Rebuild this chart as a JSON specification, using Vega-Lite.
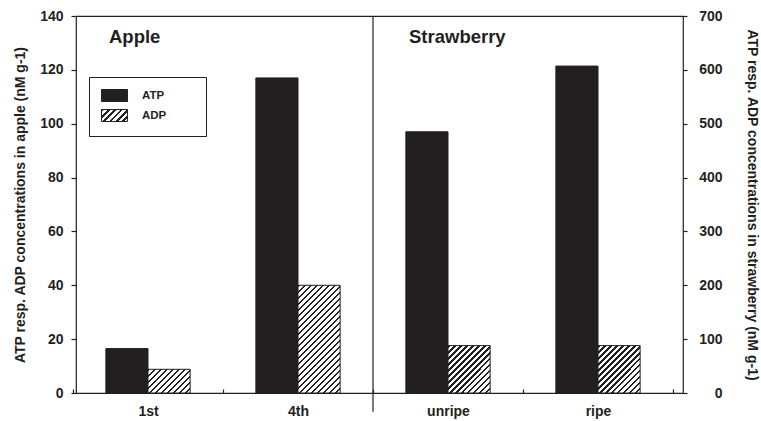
{
  "$schema": "https://vega.github.io/schema/vega-lite/v6.json",
  "width": 607,
  "height": 377,
  "autosize": {"type": "none"},
  "padding": {"left": 76, "top": 16, "right": 78, "bottom": 28},
  "background": "white",
  "config": {
    "font": "Liberation Sans",
    "view": {"stroke": "#231f20", "strokeWidth": 1.2},
    "axis": {
      "domain": false,
      "grid": false,
      "labelFont": "Liberation Sans",
      "labelFontWeight": "bold",
      "labelFontSize": 14,
      "labelColor": "#231f20",
      "titleFont": "Liberation Sans",
      "titleFontWeight": "bold",
      "titleFontSize": 14,
      "titleColor": "#231f20",
      "tickColor": "#231f20",
      "tickWidth": 1.2
    }
  },
  "datasets": {
    "apple": [
      {"cat": "1st", "type": "ATP", "v": 16.5},
      {"cat": "1st", "type": "ADP", "v": 8.8},
      {"cat": "4th", "type": "ATP", "v": 117},
      {"cat": "4th", "type": "ADP", "v": 40}
    ],
    "strawberry": [
      {"cat": "unripe", "type": "ATP", "v": 485},
      {"cat": "unripe", "type": "ADP", "v": 88},
      {"cat": "ripe", "type": "ATP", "v": 607},
      {"cat": "ripe", "type": "ADP", "v": 88}
    ],
    "panels": [
      {"cat": "1st", "label": "Apple"},
      {"cat": "unripe", "label": "Strawberry"}
    ],
    "divider": [
      {"cat": "4th"}
    ]
  },
  "layer": [
    {
      "layer": [
        {
          "data": {"name": "apple"},
          "mark": {"type": "bar", "stroke": "#231f20", "strokeWidth": 1},
          "encoding": {
            "x": {
              "field": "cat", "type": "nominal",
              "scale": {"domain": ["1st", "4th", "unripe", "ripe"], "range": [-3, 597], "paddingInner": 0, "paddingOuter": 0},
              "axis": {"title": null, "labelAngle": 0, "tickBand": "extent", "tickSize": -4, "labelPadding": 15}
            },
            "xOffset": {"field": "type", "type": "nominal", "scale": {"domain": ["ATP", "ADP"], "paddingInner": 0, "paddingOuter": 0.78}},
            "y": {
              "field": "v", "type": "quantitative",
              "scale": {"domain": [0, 140]},
              "axis": {"orient": "left", "values": [0, 20, 40, 60, 80, 100, 120, 140], "title": "ATP resp. ADP concentrations in apple (nM g-1)", "tickSize": 5, "labelPadding": 8, "titlePadding": 12}
            },
            "fill": {
              "field": "type", "type": "nominal",
              "scale": {
                "domain": ["ATP", "ADP"],
                "range": ["#231f20", {"expr": "{gradient:'linear',x1:0,y1:0,x2:1.205,y2:0.556,stops:[{offset:0,color:'#222'},{offset:0.075,color:'#222'},{offset:0.075,color:'#fff'},{offset:0.1667,color:'#fff'},{offset:0.1667,color:'#222'},{offset:0.2417,color:'#222'},{offset:0.2417,color:'#fff'},{offset:0.3333,color:'#fff'},{offset:0.3333,color:'#222'},{offset:0.4083,color:'#222'},{offset:0.4083,color:'#fff'},{offset:0.5,color:'#fff'},{offset:0.5,color:'#222'},{offset:0.575,color:'#222'},{offset:0.575,color:'#fff'},{offset:0.6667,color:'#fff'},{offset:0.6667,color:'#222'},{offset:0.7417,color:'#222'},{offset:0.7417,color:'#fff'},{offset:0.8333,color:'#fff'},{offset:0.8333,color:'#222'},{offset:0.9083,color:'#222'},{offset:0.9083,color:'#fff'},{offset:1,color:'#fff'}]}"}]
              },
              "legend": {
                "orient": "none", "legendX": 13, "legendY": 61,
                "title": null,
                "symbolType": "M-1,-1H3.3333V1H-1Z",
                "symbolSize": 144,
                "symbolStrokeColor": "#231f20",
                "symbolStrokeWidth": 1,
                "labelFont": "Liberation Sans", "labelFontSize": 11.5, "labelFontWeight": "bold", "labelColor": "#231f20",
                "labelOffset": 28,
                "labelExpr": "datum.label + '\u2800\u2800\u2800'",
                "strokeColor": "#231f20",
                "padding": 12,
                "rowPadding": 3
              },
              "condition": [
                {"test": "datum.type === 'ADP' && datum.cat === '1st'", "value": {"gradient": "linear", "x1": 0, "y1": 0, "x2": 1.187, "y2": 0.667, "stops": [
                  {"offset": 0, "color": "#222"}, {"offset": 0.0409, "color": "#222"}, {"offset": 0.0409, "color": "#fff"}, {"offset": 0.0909, "color": "#fff"},
                  {"offset": 0.0909, "color": "#222"}, {"offset": 0.1318, "color": "#222"}, {"offset": 0.1318, "color": "#fff"}, {"offset": 0.1818, "color": "#fff"},
                  {"offset": 0.1818, "color": "#222"}, {"offset": 0.2227, "color": "#222"}, {"offset": 0.2227, "color": "#fff"}, {"offset": 0.2727, "color": "#fff"},
                  {"offset": 0.2727, "color": "#222"}, {"offset": 0.3136, "color": "#222"}, {"offset": 0.3136, "color": "#fff"}, {"offset": 0.3636, "color": "#fff"},
                  {"offset": 0.3636, "color": "#222"}, {"offset": 0.4045, "color": "#222"}, {"offset": 0.4045, "color": "#fff"}, {"offset": 0.4545, "color": "#fff"},
                  {"offset": 0.4545, "color": "#222"}, {"offset": 0.4955, "color": "#222"}, {"offset": 0.4955, "color": "#fff"}, {"offset": 0.5455, "color": "#fff"},
                  {"offset": 0.5455, "color": "#222"}, {"offset": 0.5864, "color": "#222"}, {"offset": 0.5864, "color": "#fff"}, {"offset": 0.6364, "color": "#fff"},
                  {"offset": 0.6364, "color": "#222"}, {"offset": 0.6773, "color": "#222"}, {"offset": 0.6773, "color": "#fff"}, {"offset": 0.7273, "color": "#fff"},
                  {"offset": 0.7273, "color": "#222"}, {"offset": 0.7682, "color": "#222"}, {"offset": 0.7682, "color": "#fff"}, {"offset": 0.8182, "color": "#fff"},
                  {"offset": 0.8182, "color": "#222"}, {"offset": 0.8591, "color": "#222"}, {"offset": 0.8591, "color": "#fff"}, {"offset": 0.9091, "color": "#fff"},
                  {"offset": 0.9091, "color": "#222"}, {"offset": 0.95, "color": "#222"}, {"offset": 0.95, "color": "#fff"}, {"offset": 1, "color": "#fff"}
                ]}},
                {"test": "datum.type === 'ADP' && datum.cat === '4th'", "value": {"gradient": "linear", "x1": 0, "y1": 0, "x2": 0.4728, "y2": 1.2066, "stops": [
                  {"offset": 0, "color": "#222"}, {"offset": 0.018, "color": "#222"}, {"offset": 0.018, "color": "#fff"}, {"offset": 0.04, "color": "#fff"},
                  {"offset": 0.04, "color": "#222"}, {"offset": 0.058, "color": "#222"}, {"offset": 0.058, "color": "#fff"}, {"offset": 0.08, "color": "#fff"},
                  {"offset": 0.08, "color": "#222"}, {"offset": 0.098, "color": "#222"}, {"offset": 0.098, "color": "#fff"}, {"offset": 0.12, "color": "#fff"},
                  {"offset": 0.12, "color": "#222"}, {"offset": 0.138, "color": "#222"}, {"offset": 0.138, "color": "#fff"}, {"offset": 0.16, "color": "#fff"},
                  {"offset": 0.16, "color": "#222"}, {"offset": 0.178, "color": "#222"}, {"offset": 0.178, "color": "#fff"}, {"offset": 0.2, "color": "#fff"},
                  {"offset": 0.2, "color": "#222"}, {"offset": 0.218, "color": "#222"}, {"offset": 0.218, "color": "#fff"}, {"offset": 0.24, "color": "#fff"},
                  {"offset": 0.24, "color": "#222"}, {"offset": 0.258, "color": "#222"}, {"offset": 0.258, "color": "#fff"}, {"offset": 0.28, "color": "#fff"},
                  {"offset": 0.28, "color": "#222"}, {"offset": 0.298, "color": "#222"}, {"offset": 0.298, "color": "#fff"}, {"offset": 0.32, "color": "#fff"},
                  {"offset": 0.32, "color": "#222"}, {"offset": 0.338, "color": "#222"}, {"offset": 0.338, "color": "#fff"}, {"offset": 0.36, "color": "#fff"},
                  {"offset": 0.36, "color": "#222"}, {"offset": 0.378, "color": "#222"}, {"offset": 0.378, "color": "#fff"}, {"offset": 0.4, "color": "#fff"},
                  {"offset": 0.4, "color": "#222"}, {"offset": 0.418, "color": "#222"}, {"offset": 0.418, "color": "#fff"}, {"offset": 0.44, "color": "#fff"},
                  {"offset": 0.44, "color": "#222"}, {"offset": 0.458, "color": "#222"}, {"offset": 0.458, "color": "#fff"}, {"offset": 0.48, "color": "#fff"},
                  {"offset": 0.48, "color": "#222"}, {"offset": 0.498, "color": "#222"}, {"offset": 0.498, "color": "#fff"}, {"offset": 0.52, "color": "#fff"},
                  {"offset": 0.52, "color": "#222"}, {"offset": 0.538, "color": "#222"}, {"offset": 0.538, "color": "#fff"}, {"offset": 0.56, "color": "#fff"},
                  {"offset": 0.56, "color": "#222"}, {"offset": 0.578, "color": "#222"}, {"offset": 0.578, "color": "#fff"}, {"offset": 0.6, "color": "#fff"},
                  {"offset": 0.6, "color": "#222"}, {"offset": 0.618, "color": "#222"}, {"offset": 0.618, "color": "#fff"}, {"offset": 0.64, "color": "#fff"},
                  {"offset": 0.64, "color": "#222"}, {"offset": 0.658, "color": "#222"}, {"offset": 0.658, "color": "#fff"}, {"offset": 0.68, "color": "#fff"},
                  {"offset": 0.68, "color": "#222"}, {"offset": 0.698, "color": "#222"}, {"offset": 0.698, "color": "#fff"}, {"offset": 0.72, "color": "#fff"},
                  {"offset": 0.72, "color": "#222"}, {"offset": 0.738, "color": "#222"}, {"offset": 0.738, "color": "#fff"}, {"offset": 0.76, "color": "#fff"},
                  {"offset": 0.76, "color": "#222"}, {"offset": 0.778, "color": "#222"}, {"offset": 0.778, "color": "#fff"}, {"offset": 0.8, "color": "#fff"},
                  {"offset": 0.8, "color": "#222"}, {"offset": 0.818, "color": "#222"}, {"offset": 0.818, "color": "#fff"}, {"offset": 0.84, "color": "#fff"},
                  {"offset": 0.84, "color": "#222"}, {"offset": 0.858, "color": "#222"}, {"offset": 0.858, "color": "#fff"}, {"offset": 0.88, "color": "#fff"},
                  {"offset": 0.88, "color": "#222"}, {"offset": 0.898, "color": "#222"}, {"offset": 0.898, "color": "#fff"}, {"offset": 0.92, "color": "#fff"},
                  {"offset": 0.92, "color": "#222"}, {"offset": 0.938, "color": "#222"}, {"offset": 0.938, "color": "#fff"}, {"offset": 0.96, "color": "#fff"},
                  {"offset": 0.96, "color": "#222"}, {"offset": 0.978, "color": "#222"}, {"offset": 0.978, "color": "#fff"}, {"offset": 1, "color": "#fff"}
                ]}}
              ]
            }
          }
        },
        {
          "data": {"name": "panels"},
          "mark": {"type": "text", "align": "left", "baseline": "alphabetic", "font": "Liberation Sans", "fontSize": 18.5, "fontWeight": "bold", "color": "#231f20", "dx": 36},
          "encoding": {
            "x": {
              "field": "cat", "type": "nominal", "bandPosition": 0,
              "scale": {"domain": ["1st", "4th", "unripe", "ripe"], "range": [-3, 597], "paddingInner": 0, "paddingOuter": 0},
              "axis": {"title": null, "labelAngle": 0, "tickBand": "extent", "tickSize": -4, "labelPadding": 15}
            },
            "y": {
              "datum": 130, "type": "quantitative",
              "scale": {"domain": [0, 140]},
              "axis": {"orient": "left", "values": [0, 20, 40, 60, 80, 100, 120, 140], "title": "ATP resp. ADP concentrations in apple (nM g-1)", "tickSize": 5, "labelPadding": 8, "titlePadding": 12}
            },
            "text": {"field": "label", "type": "nominal"}
          }
        },
        {
          "data": {"name": "divider"},
          "mark": {"type": "rule", "color": "#231f20", "strokeWidth": 1.2},
          "encoding": {
            "x": {
              "field": "cat", "type": "nominal", "bandPosition": 1,
              "scale": {"domain": ["1st", "4th", "unripe", "ripe"], "range": [-3, 597], "paddingInner": 0, "paddingOuter": 0},
              "axis": {"title": null, "labelAngle": 0, "tickBand": "extent", "tickSize": -4, "labelPadding": 15}
            },
            "y": {
              "datum": 140, "type": "quantitative",
              "scale": {"domain": [0, 140]},
              "axis": {"orient": "left", "values": [0, 20, 40, 60, 80, 100, 120, 140], "title": "ATP resp. ADP concentrations in apple (nM g-1)", "tickSize": 5, "labelPadding": 8, "titlePadding": 12}
            },
            "y2": {"datum": -7}
          }
        }
      ]
    },
    {
      "data": {"name": "strawberry"},
      "mark": {"type": "bar", "stroke": "#231f20", "strokeWidth": 1},
      "encoding": {
        "x": {
          "field": "cat", "type": "nominal",
          "scale": {"domain": ["1st", "4th", "unripe", "ripe"], "range": [-3, 597], "paddingInner": 0, "paddingOuter": 0},
          "axis": {"title": null, "labelAngle": 0, "tickBand": "extent", "tickSize": -4, "labelPadding": 15}
        },
        "xOffset": {"field": "type", "type": "nominal", "scale": {"domain": ["ATP", "ADP"], "paddingInner": 0, "paddingOuter": 0.78}},
        "y": {
          "field": "v", "type": "quantitative",
          "scale": {"domain": [0, 700]},
          "axis": {"orient": "right", "values": [0, 100, 200, 300, 400, 500, 600, 700], "title": "ATP resp. ADP concentrations in strawberry (nM g-1)", "tickSize": 4, "labelAlign": "right", "labelPadding": 35, "titlePadding": 22}
        },
        "fill": {
          "field": "type", "type": "nominal",
          "legend": null,
          "condition": {"test": "datum.type === 'ADP'", "value": {"gradient": "linear", "x1": 0, "y1": 0, "x2": 0.9388, "y2": 1.0545, "stops": [
            {"offset": 0, "color": "#222"}, {"offset": 0.03, "color": "#222"}, {"offset": 0.03, "color": "#fff"}, {"offset": 0.0667, "color": "#fff"},
            {"offset": 0.0667, "color": "#222"}, {"offset": 0.0967, "color": "#222"}, {"offset": 0.0967, "color": "#fff"}, {"offset": 0.1333, "color": "#fff"},
            {"offset": 0.1333, "color": "#222"}, {"offset": 0.1633, "color": "#222"}, {"offset": 0.1633, "color": "#fff"}, {"offset": 0.2, "color": "#fff"},
            {"offset": 0.2, "color": "#222"}, {"offset": 0.23, "color": "#222"}, {"offset": 0.23, "color": "#fff"}, {"offset": 0.2667, "color": "#fff"},
            {"offset": 0.2667, "color": "#222"}, {"offset": 0.2967, "color": "#222"}, {"offset": 0.2967, "color": "#fff"}, {"offset": 0.3333, "color": "#fff"},
            {"offset": 0.3333, "color": "#222"}, {"offset": 0.3633, "color": "#222"}, {"offset": 0.3633, "color": "#fff"}, {"offset": 0.4, "color": "#fff"},
            {"offset": 0.4, "color": "#222"}, {"offset": 0.43, "color": "#222"}, {"offset": 0.43, "color": "#fff"}, {"offset": 0.4667, "color": "#fff"},
            {"offset": 0.4667, "color": "#222"}, {"offset": 0.4967, "color": "#222"}, {"offset": 0.4967, "color": "#fff"}, {"offset": 0.5333, "color": "#fff"},
            {"offset": 0.5333, "color": "#222"}, {"offset": 0.5633, "color": "#222"}, {"offset": 0.5633, "color": "#fff"}, {"offset": 0.6, "color": "#fff"},
            {"offset": 0.6, "color": "#222"}, {"offset": 0.63, "color": "#222"}, {"offset": 0.63, "color": "#fff"}, {"offset": 0.6667, "color": "#fff"},
            {"offset": 0.6667, "color": "#222"}, {"offset": 0.6967, "color": "#222"}, {"offset": 0.6967, "color": "#fff"}, {"offset": 0.7333, "color": "#fff"},
            {"offset": 0.7333, "color": "#222"}, {"offset": 0.7633, "color": "#222"}, {"offset": 0.7633, "color": "#fff"}, {"offset": 0.8, "color": "#fff"},
            {"offset": 0.8, "color": "#222"}, {"offset": 0.83, "color": "#222"}, {"offset": 0.83, "color": "#fff"}, {"offset": 0.8667, "color": "#fff"},
            {"offset": 0.8667, "color": "#222"}, {"offset": 0.8967, "color": "#222"}, {"offset": 0.8967, "color": "#fff"}, {"offset": 0.9333, "color": "#fff"},
            {"offset": 0.9333, "color": "#222"}, {"offset": 0.9633, "color": "#222"}, {"offset": 0.9633, "color": "#fff"}, {"offset": 1, "color": "#fff"}
          ]}}
        }
      }
    }
  ],
  "resolve": {"scale": {"y": "independent"}}
}
